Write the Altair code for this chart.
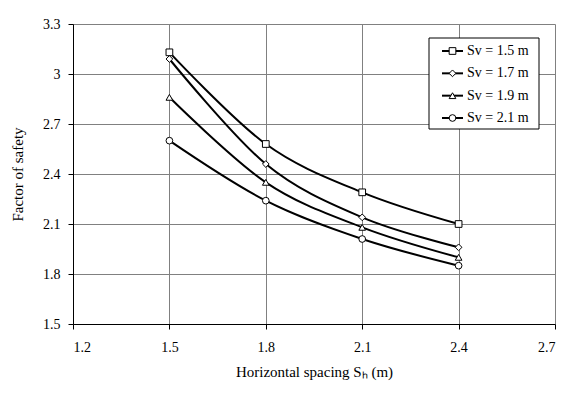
import altair as alt
import pandas as pd

# data
sh = [1.5, 1.8, 2.1, 2.4]
sv_labels = ["Sv = 1.5 m", "Sv = 1.7 m", "Sv = 1.9 m", "Sv = 2.1 m"]
fs_15 = [3.13, 2.58, 2.29, 2.10]
fs_17 = [3.09, 2.46, 2.14, 1.96]
fs_19 = [2.86, 2.35, 2.08, 1.90]
fs_21 = [2.60, 2.24, 2.01, 1.85]
x_ticks = [1.2, 1.5, 1.8, 2.1, 2.4, 2.7]
y_ticks = [1.5, 1.8, 2.1, 2.4, 2.7, 3, 3.3]
legend_rows = [0, 1, 2, 3]

rows = []
for lab, vals in zip(sv_labels, [fs_15, fs_17, fs_19, fs_21]):
    for x, y in zip(sh, vals):
        rows.append({"series": lab, "sh": x, "fs": y})
df = pd.DataFrame(rows)
leg_df = pd.DataFrame({"series": sv_labels, "row": legend_rows})
box_df = pd.DataFrame({"box": [0]})

FONT = "Liberation Serif"
plot_shapes = ["square", "diamond", "triangle-up", "circle"]
shape_scale = alt.Scale(domain=sv_labels, range=plot_shapes)

xenc = alt.X("sh:Q", scale=alt.Scale(domain=[1.2, 2.7], nice=False, zero=False),
             axis=alt.Axis(values=x_ticks, format=".1f", title="Horizontal spacing Sₕ (m)",
                           labelPadding=11, titlePadding=10))
yenc = alt.Y("fs:Q", scale=alt.Scale(domain=[1.5, 3.3], nice=False, zero=False),
             axis=alt.Axis(values=y_ticks, labelExpr="toString(datum.value)",
                           title="Factor of safety", labelPadding=8,
                           titleX=-48, titleY=150))

lines = alt.Chart(df).mark_line(interpolate="cardinal", color="black", strokeWidth=2).encode(
    x=xenc, y=yenc, detail="series:N"
)

points = alt.Chart(df).mark_point(filled=True, fill="white", stroke="black", strokeWidth=1,
                                  size=45, opacity=1).encode(
    x=xenc, y=yenc,
    shape=alt.Shape("series:N", scale=shape_scale, legend=None),
)

main = alt.layer(lines, points)

# legend drawn as marks
leg_y = alt.Y("row:Q", scale=alt.Scale(domain=[0, 3], range=[27, 94]), axis=None)

box = alt.Chart(box_df).mark_rect(fill="white", stroke="black", strokeWidth=1).encode(
    x=alt.value(356), x2=alt.value(466), y=alt.value(14), y2=alt.value(105)
)
stubs = alt.Chart(leg_df).mark_rule(color="black", strokeWidth=2).encode(
    x=alt.value(369), x2=alt.value(390), y=leg_y
)
leg_pts = alt.Chart(leg_df).mark_point(filled=True, fill="white", stroke="black", strokeWidth=1,
                                       size=45, opacity=1).encode(
    x=alt.value(379.5), y=leg_y,
    shape=alt.Shape("series:N", scale=shape_scale, legend=None),
)
leg_txt = alt.Chart(leg_df).mark_text(align="left", baseline="middle", font=FONT, fontSize=14,
                                      color="black").encode(
    x=alt.value(394), y=leg_y, text="series:N"
)
legend = alt.layer(box, stubs, leg_pts, leg_txt)

chart = alt.layer(main, legend).resolve_scale(y="independent").properties(
    width=482, height=300,
    background="white",
    autosize=alt.AutoSizeParams(type="none"),
    padding={"left": 65, "top": 16, "right": 13, "bottom": 65},
).configure_view(stroke=None).configure_axis(
    grid=True,
    gridColor="#808080", gridWidth=1, gridOpacity=1,
    domainColor="black", domainWidth=1, tickColor="black", tickSize=5, tickWidth=1,
    labelFont=FONT, labelFontSize=14, labelColor="black",
    titleFont=FONT, titleFontSize=15, titleFontWeight="normal", titleColor="black",
)

chart.save("out.html", embed_options={"renderer": "svg", "actions": False})
